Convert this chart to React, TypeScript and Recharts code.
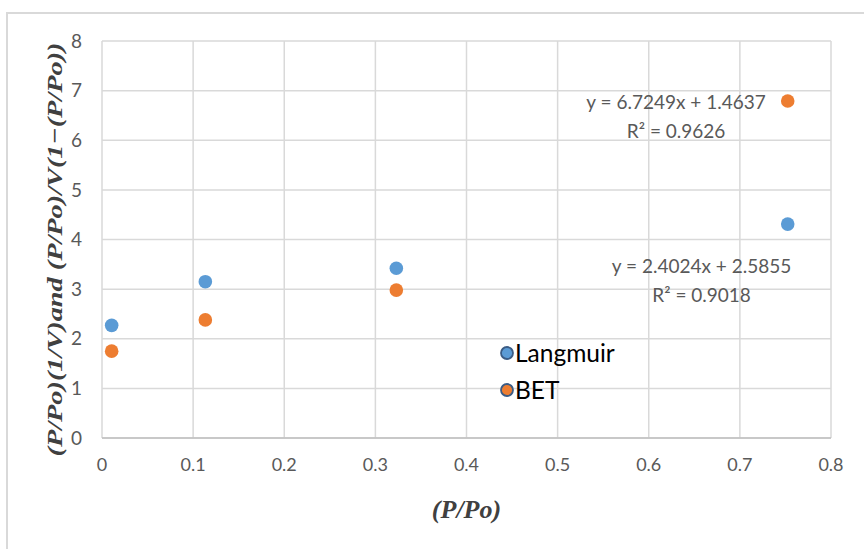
import React from "react";
import {
  ScatterChart,
  Scatter,
  XAxis,
  YAxis,
  CartesianGrid,
  Legend,
  ReferenceDot,
  Label,
} from "recharts";

// ---- data ----
const pressures = [0.0106, 0.1134, 0.323, 0.7525];
const langmuirValues = [2.27, 3.15, 3.42, 4.31];
const betValues = [1.75, 2.38, 2.98, 6.79];
const xTicks = [0, 0.1, 0.2, 0.3, 0.4, 0.5, 0.6, 0.7, 0.8];
const yTicks = [0, 1, 2, 3, 4, 5, 6, 7, 8];
const seriesNames = ["Langmuir", "BET"];
const betEquation = ["y = 6.7249x + 1.4637", "R² = 0.9626"];
const langmuirEquation = ["y = 2.4024x + 2.5855", "R² = 0.9018"];
const xTitle = "(P/Po)";
const yTitle = "(P/Po)(1/V)and (P/Po)/V(1−(P/Po))";

const langmuirData = pressures.map((x, i) => ({ x, y: langmuirValues[i] }));
const betData = pressures.map((x, i) => ({ x, y: betValues[i] }));

const BLUE = "#5B9BD5";
const ORANGE = "#ED7D31";
const GRID = "#d9d9d9";
const TICK = "#595959";
const FONT = "Lato, 'Open Sans', sans-serif";

const dot = (color: string) => (props: any) => (
  <circle cx={props.cx} cy={props.cy} r={6.8} fill={color} />
);

const EquationLabel = (lines: string[]) => (props: any) => {
  const vb = props.viewBox || {};
  const cx = vb.x + (vb.width || 0) / 2;
  const cy = vb.y + (vb.height || 0) / 2;
  return (
    <g>
      <text
        x={cx}
        y={cy}
        textAnchor="middle"
        dominantBaseline="central"
        fill={TICK}
        fontFamily={FONT}
        fontSize={19}
      >
        {lines[0]}
      </text>
      <text
        x={cx}
        y={cy + 29}
        textAnchor="middle"
        dominantBaseline="central"
        fill={TICK}
        fontFamily={FONT}
        fontSize={19}
      >
        {lines[1]}
      </text>
    </g>
  );
};

const LegendContent = () => {
  const colors = [BLUE, ORANGE];
  return (
    <div style={{ fontFamily: FONT, fontSize: 24.5, color: "#000" }}>
      {seriesNames.map((name, i) => (
        <div
          key={name}
          style={{ display: "flex", alignItems: "center", height: 37 }}
        >
          <svg width={16} height={16} style={{ marginRight: 0 }}>
            <circle
              cx={8}
              cy={8}
              r={6}
              fill={colors[i]}
              stroke="#3B5C85"
              strokeWidth={1.8}
            />
          </svg>
          <span>{name}</span>
        </div>
      ))}
    </div>
  );
};

export default function App() {
  return (
    <div
      style={{
        position: "absolute",
        left: 0,
        top: 0,
        width: 864,
        height: 549,
        overflow: "hidden",
        background: "#fff",
      }}
    >
      <div
        style={{
          position: "absolute",
          left: 6,
          top: 12,
          width: 900,
          height: 600,
          border: "2px solid #d9d9d9",
        }}
      />
      <div style={{ position: "absolute", left: 0, top: 0 }}>
        <ScatterChart
          width={864}
          height={549}
          margin={{ top: 41, right: 33, bottom: 51, left: 42 }}
        >
          <CartesianGrid stroke={GRID} strokeWidth={1.5} />
          <XAxis
            type="number"
            dataKey="x"
            domain={[0, 0.8]}
            ticks={xTicks}
            allowDataOverflow
            height={60}
            stroke="#bfbfbf"
            strokeWidth={1.5}
            tickLine={false}
            tickSize={6}
            tickMargin={14}
            tick={{ fill: TICK, fontSize: 18, fontFamily: FONT }}
          >
            <Label
              content={(props: any) => {
                const vb = props.viewBox;
                return (
                  <text
                    x={vb.x + vb.width / 2}
                    y={vb.y + 80}
                    textAnchor="middle"
                    fill="#404040"
                    fontFamily="'Liberation Serif', serif"
                    fontWeight="bold"
                    fontStyle="italic"
                    fontSize={26}
                  >
                    {xTitle}
                  </text>
                );
              }}
            />
          </XAxis>
          <YAxis
            type="number"
            dataKey="y"
            domain={[0, 8]}
            ticks={yTicks}
            width={60}
            stroke="#bfbfbf"
            strokeWidth={1.5}
            axisLine={false}
            tickLine={false}
            tickSize={6}
            tickMargin={14}
            tick={{ fill: TICK, fontSize: 19, fontFamily: FONT }}
          >
            <Label
              content={(props: any) => {
                const vb = props.viewBox;
                const cx = vb.x + 12;
                const cy = vb.y + vb.height / 2 + 10;
                return (
                  <text
                    x={cx}
                    y={cy}
                    transform={`rotate(-90, ${cx}, ${cy})`}
                    textAnchor="middle"
                    dominantBaseline="central"
                    fill="#404040"
                    fontFamily="'Liberation Serif', serif"
                    fontWeight="bold"
                    fontStyle="italic"
                    fontSize={22}
                    textLength={414}
                    lengthAdjust="spacingAndGlyphs"
                  >
                    {yTitle}
                  </text>
                );
              }}
            />
          </YAxis>
          <Scatter
            name={seriesNames[0]}
            data={langmuirData}
            fill={BLUE}
            shape={dot(BLUE)}
            isAnimationActive={false}
          />
          <Scatter
            name={seriesNames[1]}
            data={betData}
            fill={ORANGE}
            shape={dot(ORANGE)}
            isAnimationActive={false}
          />
          <ReferenceDot
            x={0.63}
            y={betValues[3]}
            r={0}
            stroke="none"
            label={{ content: EquationLabel(betEquation) }}
          />
          <ReferenceDot
            x={0.658}
            y={3.47}
            r={0}
            stroke="none"
            label={{ content: EquationLabel(langmuirEquation) }}
          />
          <Legend
            layout="horizontal"
            verticalAlign="middle"
            align="center"
            content={<LegendContent />}
            wrapperStyle={{
              position: "absolute",
              left: 499,
              top: 334,
              width: "auto",
              bottom: "auto",
            }}
          />
        </ScatterChart>
      </div>
    </div>
  );
}
